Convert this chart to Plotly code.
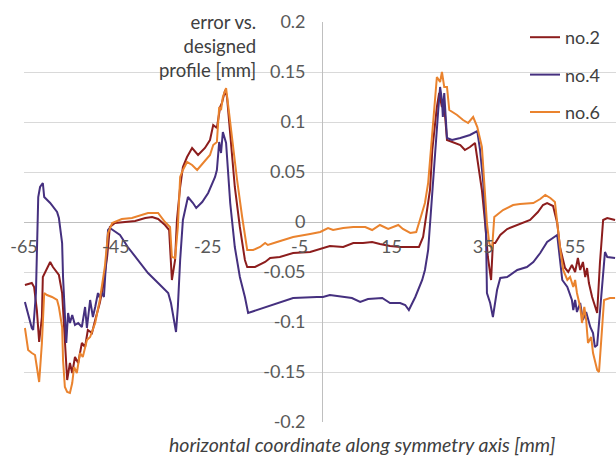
import plotly.graph_objects as go

# Measured profile error along the symmetry axis for three parts
x_no2 = [-64.8, -63.3, -62.8, -62.2, -61.7, -61.1, -60.9, -60.0, -59.3, -58.7, -57.8, -57.4,
         -56.7, -56.3, -55.9, -55.6, -55.0, -54.5, -53.9, -53.2, -52.4, -51.7, -51.1, -50.2,
         -49.5, -48.5, -47.8, -46.9, -46.3, -45.2, -43.0, -40.8, -38.6, -37.1, -35.8, -34.3,
         -33.4, -33.0, -32.8, -32.1, -31.7, -31.0, -30.4, -29.5, -28.4, -27.1, -25.6, -24.5,
         -23.8, -23.0, -22.3, -21.9, -21.2, -20.8, -20.1, -19.1, -18.0, -16.9, -16.4, -14.7,
         -12.5, -11.4, -9.3, -6.4, -2.7, 0.1, 1.6, 4.5, 6.7, 8.8, 10.8, 12.5, 14.7, 16.9, 19.1,
         21.0, 21.9, 22.8, 23.4, 23.9, 24.9, 25.4, 26.0, 26.2, 26.7, 27.1, 28.2, 30.0, 31.0,
         32.1, 33.2, 33.9, 34.7, 35.4, 36.0, 36.7, 37.1, 37.6, 38.7, 40.2, 42.4, 45.2, 46.9,
         48.0, 48.9, 50.2, 51.1, 51.7, 52.8, 53.5, 54.3, 55.0, 55.6, 56.1, 56.7, 57.2, 57.6,
         58.0, 58.7, 59.3, 59.8, 60.4, 61.1, 62.0, 63.7]
y_no2 = [-0.063, -0.061, -0.065, -0.088, -0.120, -0.095, -0.055, -0.046, -0.040, -0.045, -0.050,
         -0.053, -0.071, -0.105, -0.138, -0.158, -0.141, -0.151, -0.135, -0.141, -0.121, -0.125,
         -0.108, -0.111, -0.098, -0.081, -0.065, -0.035, -0.005, -0.001, 0.000, 0.001, 0.004,
         0.005, 0.003, -0.003, -0.008, -0.038, -0.058, -0.038, 0.002, 0.035, 0.055, 0.065, 0.074,
         0.067, 0.074, 0.082, 0.097, 0.094, 0.115, 0.119, 0.132, 0.125, 0.085, 0.035, -0.005,
         -0.038, -0.045, -0.045, -0.040, -0.036, -0.035, -0.031, -0.030, -0.026, -0.024, -0.025,
         -0.021, -0.021, -0.020, -0.022, -0.024, -0.025, -0.025, -0.025, -0.015, 0.012, 0.032,
         0.072, 0.115, 0.129, 0.115, 0.122, 0.105, 0.082, 0.080, 0.077, 0.072, 0.075, 0.079,
         0.055, 0.032, -0.001, -0.035, -0.058, -0.021, -0.021, -0.013, -0.007, -0.003, 0.002,
         0.010, 0.017, 0.019, 0.016, -0.001, -0.025, -0.046, -0.050, -0.043, -0.050, -0.036,
         -0.048, -0.040, -0.055, -0.046, -0.061, -0.075, -0.085, -0.091, -0.041, 0.002, 0.004,
         0.002]

x_no4 = [-64.8, -63.3, -63.0, -62.4, -61.9, -61.5, -60.9, -60.6, -59.3, -57.8, -57.4, -56.7,
         -56.5, -56.1, -55.8, -55.4, -55.0, -54.5, -53.9, -53.2, -52.4, -51.7, -51.3, -50.6,
         -50.0, -49.5, -48.9, -48.5, -48.2, -47.6, -47.1, -46.7, -46.3, -44.1, -42.4, -40.2,
         -38.0, -35.8, -33.6, -33.0, -32.6, -31.9, -31.5, -31.0, -30.4, -29.3, -28.2, -27.5,
         -26.2, -24.9, -23.4, -23.0, -22.5, -22.1, -21.7, -21.0, -20.1, -19.1, -18.0, -16.9,
         -16.2, -12.1, -8.6, -6.4, -1.2, 0.1, 1.6, 4.5, 6.4, 8.2, 9.9, 13.0, 14.7, 16.9, 18.0,
         18.8, 20.2, 21.7, 22.3, 23.0, 23.4, 23.9, 24.5, 25.2, 25.6, 26.0, 26.2, 26.5, 27.1,
         28.2, 30.0, 32.1, 33.7, 34.3, 35.0, 35.6, 35.8, 36.5, 37.1, 38.0, 38.7, 40.2, 42.4,
         44.5, 45.9, 47.4, 48.9, 51.1, 52.2, 53.3, 54.3, 54.6, 55.0, 55.4, 56.1, 56.7, 57.4,
         58.3, 58.9, 59.3, 59.8, 60.4, 61.1, 61.5, 62.0, 63.7]
y_no4 = [-0.080, -0.106, -0.108, -0.071, 0.025, 0.035, 0.039, 0.025, 0.019, 0.010, 0.004, -0.021,
         -0.055, -0.088, -0.121, -0.091, -0.101, -0.093, -0.103, -0.101, -0.105, -0.085, -0.106,
         -0.078, -0.095, -0.085, -0.071, -0.076, -0.070, -0.075, -0.038, -0.008, -0.006, -0.013,
         -0.025, -0.038, -0.051, -0.061, -0.071, -0.081, -0.093, -0.110, -0.085, -0.038, 0.002,
         0.025, 0.019, 0.014, 0.020, 0.029, 0.045, 0.052, 0.080, 0.069, 0.090, 0.079, 0.019,
         -0.025, -0.055, -0.075, -0.091, -0.085, -0.080, -0.076, -0.075, -0.075, -0.073, -0.075,
         -0.076, -0.080, -0.077, -0.076, -0.081, -0.081, -0.083, -0.088, -0.075, -0.058, -0.048,
         -0.028, -0.001, 0.032, 0.072, 0.112, 0.135, 0.122, 0.105, 0.129, 0.084, 0.082, 0.084,
         0.087, 0.091, 0.072, 0.039, -0.011, -0.071, -0.081, -0.095, -0.068, -0.056, -0.055,
         -0.048, -0.045, -0.040, -0.031, -0.020, -0.013, -0.058, -0.065, -0.078, -0.088, -0.078,
         -0.090, -0.081, -0.098, -0.090, -0.105, -0.111, -0.125, -0.123, -0.091, -0.051, -0.030,
         -0.035, -0.036]

x_no6 = [-64.8, -64.1, -63.3, -62.6, -62.2, -61.7, -61.1, -60.6, -60.0, -58.9, -57.8, -57.4,
         -56.7, -56.5, -56.1, -55.6, -55.0, -54.5, -54.1, -53.5, -52.8, -52.2, -51.3, -50.6,
         -49.5, -48.5, -47.4, -46.7, -45.8, -43.7, -41.5, -39.3, -38.0, -35.8, -34.3, -33.2,
         -32.8, -32.1, -31.5, -31.0, -30.4, -29.5, -28.4, -27.3, -26.0, -24.5, -23.8, -23.0,
         -22.5, -22.1, -21.7, -21.0, -20.6, -19.7, -18.6, -17.5, -16.4, -15.1, -13.6, -12.5,
         -11.9, -9.9, -6.4, -2.7, -0.5, 1.2, 2.3, 4.5, 6.7, 9.3, 10.8, 12.5, 14.3, 16.5, 17.5,
         19.1, 20.4, 21.2, 22.3, 23.0, 23.9, 24.5, 24.9, 25.6, 26.0, 26.5, 27.1, 27.6, 29.3,
         30.6, 31.7, 32.8, 33.7, 34.7, 35.2, 35.8, 36.3, 36.9, 37.4, 38.0, 39.3, 41.5, 43.0,
         45.9, 47.4, 48.5, 49.6, 50.6, 51.1, 51.7, 52.4, 53.3, 53.9, 54.6, 55.0, 55.4, 56.1,
         56.5, 57.0, 57.4, 57.8, 58.5, 58.9, 59.8, 60.2, 60.9, 61.3, 62.6, 63.7]
y_no6 = [-0.106, -0.128, -0.131, -0.133, -0.145, -0.160, -0.121, -0.071, -0.073, -0.075, -0.078,
         -0.085, -0.105, -0.138, -0.165, -0.170, -0.171, -0.161, -0.145, -0.151, -0.131, -0.135,
         -0.118, -0.115, -0.101, -0.078, -0.045, -0.011, -0.001, 0.003, 0.004, 0.007, 0.009,
         0.009, 0.000, -0.005, -0.035, -0.036, -0.005, 0.045, 0.052, 0.060, 0.057, 0.052, 0.059,
         0.067, 0.077, 0.080, 0.115, 0.112, 0.125, 0.134, 0.119, 0.082, 0.042, 0.005, -0.028,
         -0.028, -0.025, -0.021, -0.023, -0.020, -0.015, -0.012, -0.010, -0.006, -0.008, -0.006,
         -0.005, -0.005, -0.008, -0.003, -0.007, -0.003, -0.007, -0.011, -0.010, 0.002, 0.019,
         0.039, 0.089, 0.129, 0.145, 0.140, 0.150, 0.135, 0.135, 0.112, 0.107, 0.102, 0.099,
         0.105, 0.095, 0.075, 0.039, -0.001, -0.021, -0.028, 0.005, 0.007, 0.012, 0.017, 0.018,
         0.019, 0.023, 0.027, 0.024, 0.020, -0.001, -0.025, -0.048, -0.058, -0.055, -0.065,
         -0.058, -0.071, -0.085, -0.101, -0.085, -0.098, -0.121, -0.115, -0.131, -0.148, -0.150,
         -0.108, -0.078, -0.076, -0.076]

series_names = ["no.2", "no.4", "no.6"]
series_colors = ["#8C1D1D", "#45307F", "#EA832E"]

x_tick_vals = [-65, -45, -25, -5, 15, 35, 55]
x_tick_text = ["-65", "-45", "-25", "-5", "15", "35", "55"]
y_tick_vals = [0.2, 0.15, 0.1, 0.05, 0, -0.05, -0.1, -0.15, -0.2]
y_tick_text = ["0.2", "0.15", "0.1", "0.05", "0", "-0.05", "-0.1", "-0.15", "-0.2"]

X_MIN, X_MAX = -65.0, 63.9
Y_MIN, Y_MAX = -0.2, 0.2

FONT = "Lato"
TICK_COLOR = "#595959"
TEXT_COLOR = "#404040"

fig = go.Figure()
for name, color, xs, ys in zip(series_names, series_colors,
                               [x_no2, x_no4, x_no6], [y_no2, y_no4, y_no6]):
    fig.add_trace(go.Scatter(x=xs, y=ys, mode="lines", name=name, legendgroup=name,
                             line=dict(color=color, width=2)))

# axes cross at the origin, like a spreadsheet chart
y_axis_pos = (0 - X_MIN) / (X_MAX - X_MIN)
x_axis_pos = (0 - Y_MIN) / (Y_MAX - Y_MIN)

fig.update_layout(
    width=616, height=459,
    margin=dict(l=24, r=0, t=22, b=37),
    paper_bgcolor="white", plot_bgcolor="white",
    font=dict(family=FONT, size=18, color=TEXT_COLOR),
    xaxis=dict(range=[X_MIN, X_MAX], tickvals=x_tick_vals, ticktext=x_tick_text,
               showgrid=False, zeroline=True, zerolinecolor="#BFBFBF", zerolinewidth=1,
               showline=False, anchor="free", position=x_axis_pos, ticks="",
               ticklabelstandoff=12,
               tickfont=dict(family=FONT, size=18, color=TICK_COLOR)),
    yaxis=dict(range=[Y_MIN, Y_MAX], tickvals=y_tick_vals, ticktext=y_tick_text,
               showgrid=True, gridcolor="#D9D9D9", gridwidth=1,
               zeroline=True, zerolinecolor="#BFBFBF", zerolinewidth=1,
               showline=False, anchor="free", position=y_axis_pos, ticks="",
               ticklabelstandoff=17,
               tickfont=dict(family=FONT, size=18, color=TICK_COLOR)),
    legend=dict(x=(525 - 24) / 592, y=(422 - 19) / 400, xanchor="left", yanchor="top",
                bgcolor="rgba(0,0,0,0)", tracegroupgap=11,
                font=dict(family=FONT, size=18, color=TEXT_COLOR)),
    showlegend=True,
)

fig.add_annotation(text="error vs.<br>designed<br>profile [mm]", xref="paper", yref="paper",
                   x=(258 - 24) / 592, y=(422 - 9) / 400, xanchor="right", yanchor="top",
                   align="right", showarrow=False,
                   font=dict(family=FONT, size=18.5, color=TEXT_COLOR))
fig.add_annotation(text="<i>horizontal coordinate along symmetry axis [mm]</i>",
                   xref="paper", yref="paper", x=(362 - 24) / 592, y=(422 - 458) / 400,
                   xanchor="center", yanchor="bottom", showarrow=False,
                   font=dict(family=FONT, size=19.5, color=TEXT_COLOR))

fig.write_html("out.html")
